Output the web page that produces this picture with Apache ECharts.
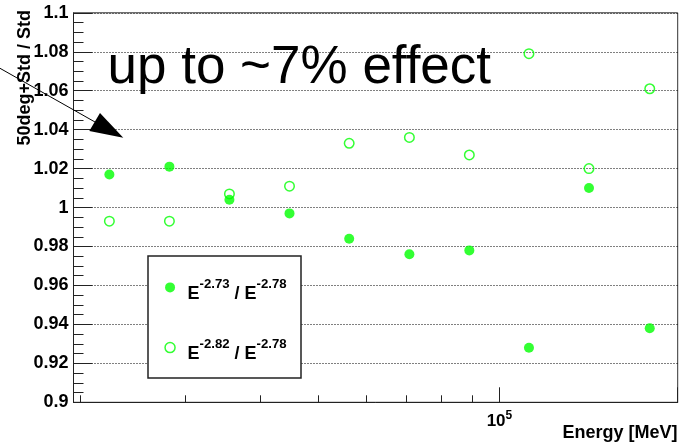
<!DOCTYPE html>
<html>
<head>
<meta charset="utf-8">
<script src="https://cdn.jsdelivr.net/npm/echarts@6/dist/echarts.min.js"></script>
<style>
  html, body { margin: 0; padding: 0; background: #fff; }
  #chart { width: 679px; height: 444px; }
</style>
</head>
<body>
<div id="chart"></div>
<script>
// Energy bin centres [MeV]
const energies = [22400, 28200, 35500, 44700, 56200, 70800, 89100, 112000, 141000, 178000];
// Ratio of (50deg + Std) flux to Std flux for two spectral hypotheses
const ratioSoft = [1.017, 1.021, 1.004, 0.997, 0.984, 0.976, 0.978, 0.928, 1.010, 0.938]; // E^-2.73 / E^-2.78
const ratioHard = [0.993, 0.993, 1.007, 1.011, 1.033, 1.036, 1.027, 1.079, 1.020, 1.061]; // E^-2.82 / E^-2.78
const seriesNames = ['E-2.73 / E-2.78', 'E-2.82 / E-2.78'];
const seriesExponents = [['-2.73', '-2.78'], ['-2.82', '-2.78']];
const xRange = [19520, 198150];
const xMinorTicks = [20000, 30000, 40000, 50000, 60000, 70000, 80000, 90000];
const yRange = [0.9, 1.1];
const yStep = 0.02;

const FONT = '"Liberation Sans", Arial, Helvetica, sans-serif';
const GREEN = '#00ff00';
const INK = '#222';

const chart = echarts.init(document.getElementById('chart'), null, { renderer: 'canvas' });

const seriesData = (vals) => energies.map((e, i) => [e, vals[i]]);

const legendLabel = (name) => {
  const idx = seriesNames.indexOf(name);
  const ex = seriesExponents[idx];
  return '{e|E}{s|' + ex[0] + '}{e| / E}{s|' + ex[1] + '}';
};

const option = {
  animation: false,
  backgroundColor: '#fff',
  textStyle: { fontFamily: FONT },
  grid: {
    left: 73.5, top: 12.8, right: 1.3, bottom: 41.7,
    show: true, borderColor: '#333', borderWidth: 1,
    containLabel: false, outerBoundsMode: 'none'
  },
  xAxis: [
    {
      type: 'log', logBase: 10, min: xRange[0], max: xRange[1], position: 'bottom',
      axisLine: { show: true, lineStyle: { color: INK, width: 1 } },
      axisTick: { show: true, inside: true, length: 15, lineStyle: { color: INK } },
      minorTick: { show: false },
      splitLine: { show: false },
      minorSplitLine: { show: false },
      axisLabel: {
        margin: 7,
        color: '#000',
        formatter: (v) => Math.abs(Math.log10(v) - 5) < 1e-6 ? '{b|10}{s|5}' : '',
        rich: {
          b: { fontSize: 17, fontWeight: 'bold', fontFamily: FONT, color: '#000', verticalAlign: 'bottom', padding: [4, 0, 0, 0] },
          s: { fontSize: 12, fontWeight: 'bold', fontFamily: FONT, color: '#000', verticalAlign: 'top' }
        }
      }
    },
    {
      // secondary decade subdivisions drawn as short ticks
      type: 'value', min: Math.log10(xRange[0]), max: Math.log10(xRange[1]), position: 'bottom',
      axisLine: { show: false },
      axisLabel: { show: false },
      splitLine: { show: false },
      axisTick: {
        show: true, inside: true, length: 7,
        customValues: xMinorTicks.map((v) => Math.log10(v)),
        lineStyle: { color: INK }
      }
    }
  ],
  yAxis: {
    type: 'value', min: yRange[0], max: yRange[1], interval: yStep,
    axisLine: { show: true, lineStyle: { color: INK, width: 1 } },
    axisTick: { show: true, inside: true, length: 19, lineStyle: { color: INK } },
    minorTick: { show: true, splitNumber: 4, length: 10, lineStyle: { color: INK } },
    axisLabel: {
      margin: 5, fontSize: 18, fontWeight: 'bold', fontFamily: FONT, color: '#000',
      formatter: (v) => String(+v.toFixed(2))
    },
    splitLine: { show: true, lineStyle: { color: '#000', width: 1, type: [1, 2] } }
  },
  legend: {
    orient: 'vertical',
    left: 164.3, top: 278.1,
    padding: 0,
    itemGap: 35.6,
    itemWidth: 10, itemHeight: 10,
    z: 10,
    data: [
      { name: seriesNames[0], icon: 'circle', itemStyle: { color: GREEN, borderWidth: 0 } },
      { name: seriesNames[1], icon: 'circle', itemStyle: { color: 'rgba(0,0,0,0)', borderColor: GREEN, borderWidth: 1.5 } }
    ],
    formatter: legendLabel,
    textStyle: {
      color: '#000',
      padding: [0, 0, 0, 7.5],
      rich: {
        e: { fontSize: 18, fontWeight: 'bold', fontFamily: FONT, color: '#000', verticalAlign: 'bottom', padding: [12.6, 0, 0, 0] },
        s: { fontSize: 13.2, fontWeight: 'bold', fontFamily: FONT, color: '#000', verticalAlign: 'top', padding: [6, 0, 0, 0] }
      }
    }
  },
  series: [
    {
      name: seriesNames[1], type: 'scatter', xAxisIndex: 0,
      symbol: 'circle', symbolSize: 9.5,
      itemStyle: { color: 'rgba(0,0,0,0)', borderColor: GREEN, borderWidth: 1.5 },
      data: seriesData(ratioHard)
    },
    {
      name: seriesNames[0], type: 'scatter', xAxisIndex: 0,
      symbol: 'circle', symbolSize: 10,
      itemStyle: { color: GREEN },
      data: seriesData(ratioSoft)
    }
  ],
  graphic: [
    // legend frame
    { type: 'rect', z: 5, shape: { x: 148, y: 256, width: 153, height: 122 },
      style: { fill: '#fff', stroke: INK, lineWidth: 1.5 } },
    // annotation
    { type: 'text', z: 6, x: 107.5, y: 68,
      style: { text: 'up to ~7% effect', fontSize: 53, fontFamily: FONT, fill: '#000', verticalAlign: 'middle' } },
    { type: 'line', z: 6, shape: { x1: 0, y1: 68.3, x2: 95, y2: 122 },
      style: { stroke: '#000', lineWidth: 1 } },
    { type: 'polygon', z: 6, shape: { points: [[123.3, 137.8], [89.3, 131], [100, 113]] },
      style: { fill: '#000' } },
    // axis titles
    { type: 'text', z: 6, x: 25, y: 10, rotation: Math.PI / 2,
      style: { text: '50deg+Std / Std', fontSize: 18, fontWeight: 'bold', fontFamily: FONT, fill: '#000', align: 'right', verticalAlign: 'middle' } },
    { type: 'text', z: 6, x: 677.5, y: 433.5,
      style: { text: 'Energy [MeV]', fontSize: 18, fontWeight: 'bold', fontFamily: FONT, fill: '#000', align: 'right', verticalAlign: 'middle' } }
  ]
};

chart.setOption(option);
</script>
</body>
</html>
